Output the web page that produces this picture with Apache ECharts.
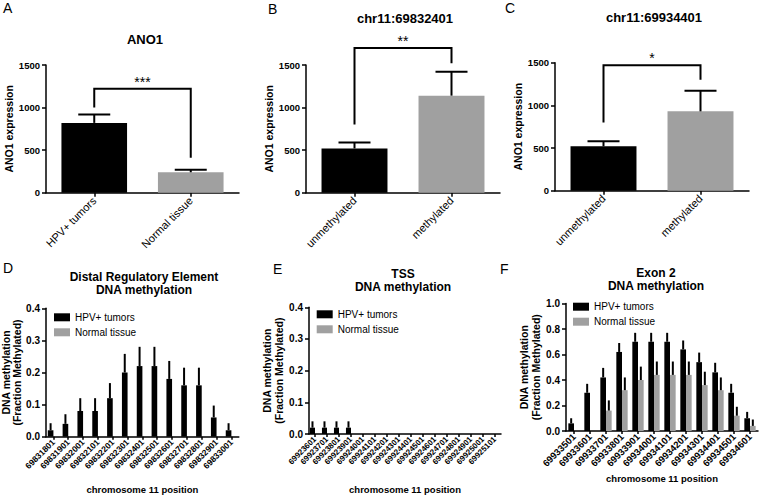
<!DOCTYPE html>
<html><head><meta charset="utf-8">
<script src="https://cdn.jsdelivr.net/npm/echarts@6/dist/echarts.min.js"></script>
<style>html,body{margin:0;padding:0;background:#fff}#c{width:760px;height:498px}</style>
</head><body><div id="c"></div>
<script>
const FONT = "'Liberation Sans', Arial, Helvetica, sans-serif";
const BLACK = '#000000', GREY = '#a0a0a0';
const seriesNames = ['HPV+ tumors', 'Normal tissue'];

// ---- Panel A ----
const catA = ['HPV+ tumors', 'Normal tissue'];
const meanA = [820, 240];
const errTopA = [920, 270];
const bracketA = [1000, 1220, 410];   // left leg end, top, right leg end
const starsA = '***';
// ---- Panel B ----
const catB = ['unmethylated', 'methylated'];
const meanB = [520, 1140];
const errTopB = [590, 1420];
const bracketB = [800, 1700, 1520];
const starsB = '**';
// ---- Panel C ----
const catC = ['unmethylated', 'methylated'];
const meanC = [520, 930];
const errTopC = [580, 1170];
const bracketC = [800, 1470, 1300];
const starsC = '*';
const yMaxABC = 1500, yStepABC = 500;

// ---- Panel D ----
const catD = ['69831801','69831901','69832001','69832101','69832201','69832301','69832401','69832501','69832601','69832701','69832801','69832901','69833001'];
const tumorD    = [0.02, 0.04, 0.08, 0.08, 0.12, 0.20, 0.22, 0.22, 0.18, 0.16, 0.16, 0.06, 0.02];
const tumorTopD = [0.042,0.07, 0.12, 0.12, 0.167,0.258,0.28, 0.28, 0.236,0.215,0.215,0.097,0.042];
const normalD    = [0,0,0,0,0,0,0,0,0,0,0,0,0];
const normalTopD = [0,0,0,0,0,0,0,0,0,0,0,0,0];
const yMaxD = 0.4, yStepD = 0.1;

// ---- Panel E ----
const catE = ['69923601','69923701','69923801','69923901','69924001','69924101','69924201','69924301','69924401','69924501','69924601','69924701','69924801','69924901','69925001','69925101'];
const tumorE    = [0.02, 0.02, 0.02, 0.02, 0,0,0,0,0,0,0,0,0,0,0,0];
const tumorTopE = [0.04, 0.04, 0.04, 0.04, 0,0,0,0,0,0,0,0,0,0,0,0];
const normalE    = [0,0,0,0,0,0,0,0,0,0,0,0,0,0,0,0];
const normalTopE = [0,0,0,0,0,0,0,0,0,0,0,0,0,0,0,0];
const yMaxE = 0.4, yStepE = 0.1;

// ---- Panel F ----
const catF = ['69933501','69933601','69933701','69933801','69933901','69934001','69934101','69934201','69934301','69934401','69934501','69934601'];
const tumorF    = [0.06, 0.30, 0.42, 0.62, 0.70, 0.70, 0.70, 0.64, 0.54, 0.46, 0.30, 0.10];
const tumorTopF = [0.10, 0.37, 0.495,0.69, 0.77, 0.77, 0.77, 0.71, 0.615,0.535,0.37, 0.15];
const normalF    = [0, 0, 0.16, 0.32, 0.40, 0.44, 0.44, 0.44, 0.36, 0.32, 0.12, 0.04];
const normalTopF = [0, 0, 0.24, 0.42, 0.505,0.545,0.545,0.545,0.465,0.42, 0.19, 0.09];
const yMaxF = 1.0, yStepF = 0.2;

const chart = echarts.init(document.getElementById('c'), null, {renderer: 'svg', width: 760, height: 498});

function errRender(offFrac, cap) {
  return function (params, api) {
    const x = api.value(0), m = api.value(1), t = api.value(2);
    if (!(t > m)) return null;
    const w = api.size([1, 0])[0];
    const a = api.coord([x, m]), b = api.coord([x, t]);
    const cx = a[0] + offFrac * w;
    const ch = [{type: 'line', shape: {x1: cx, y1: a[1], x2: cx, y2: b[1]}, style: {stroke: BLACK, lineWidth: 2}}];
    if (cap) ch.push({type: 'line', shape: {x1: cx - cap / 2, y1: b[1], x2: cx + cap / 2, y2: b[1]}, style: {stroke: BLACK, lineWidth: 2}});
    return {type: 'group', children: ch};
  };
}
function bracketRender(b, stars) {
  return function (params, api) {
    const pL = api.coord([0, b[0]]), p0 = api.coord([0, b[1]]), p1 = api.coord([1, b[1]]), pR = api.coord([1, b[2]]);
    return {type: 'group', children: [
      {type: 'polyline', shape: {points: [pL, p0, p1, pR]}, style: {stroke: BLACK, lineWidth: 2, fill: 'none'}},
      {type: 'text', x: (p0[0] + p1[0]) / 2, y: p0[1], style: {text: stars, font: '14px ' + FONT, fill: BLACK, align: 'center', verticalAlign: 'bottom'}}
    ]};
  };
}

const grids = [
  {left: 46, top: 65, width: 193, height: 127.7},
  {left: 306, top: 65, width: 194, height: 127.7},
  {left: 555, top: 62.7, width: 194, height: 128},
  {left: 46, top: 308.3, width: 192.8, height: 128.4},
  {left: 309, top: 307.3, width: 192, height: 126.7},
  {left: 566, top: 303.5, width: 192, height: 127.5}
].map(g => Object.assign({outerBoundsMode: 'none', containLabel: false}, g));

const axisLineStyle = {color: BLACK, width: 1.5};
const xAxes = [], yAxes = [], series = [];

function addAxes(idx, cats, yMax, yStep, o) {
  xAxes.push({
    type: 'category', gridIndex: idx, data: cats, boundaryGap: true,
    axisLine: {show: true, lineStyle: axisLineStyle},
    axisTick: {show: true, alignWithLabel: true, length: o.xTick, lineStyle: axisLineStyle},
    axisLabel: {interval: 0, rotate: 45, color: BLACK, fontFamily: FONT, fontSize: o.xFont, fontWeight: o.xBold ? 'bold' : 'normal', margin: o.xMargin, hideOverlap: false},
    name: o.xName || '', nameLocation: 'middle', nameGap: o.xNameGap || 0,
    nameTextStyle: {color: BLACK, fontFamily: FONT, fontSize: 9.5, fontWeight: 'bold'}
  });
  yAxes.push({
    type: 'value', gridIndex: idx, min: 0, max: yMax, interval: yStep,
    axisLine: {show: true, lineStyle: axisLineStyle},
    axisTick: {show: true, length: 4, lineStyle: axisLineStyle},
    splitLine: {show: false},
    axisLabel: {color: BLACK, fontFamily: FONT, fontSize: o.yFont, fontWeight: 'bold', margin: 6,
      formatter: o.yFixed ? (v => v.toFixed(o.yFixed)) : (v => String(v))},
    name: o.yName, nameLocation: 'middle', nameGap: o.yNameGap,
    nameTextStyle: {color: BLACK, fontFamily: FONT, fontSize: o.yNameFont, fontWeight: 'bold', lineHeight: o.yNameLH || 12}
  });
}

function simplePanel(idx, cats, mean, errTop, bracket, stars) {
  series.push({type: 'bar', xAxisIndex: idx, yAxisIndex: idx, barWidth: '68%', silent: true,
    data: mean.map((v, i) => ({value: v, itemStyle: {color: i === 0 ? BLACK : GREY}}))});
  series.push({type: 'custom', xAxisIndex: idx, yAxisIndex: idx, renderItem: errRender(0, 32), z: 3, silent: true,
    data: mean.map((v, i) => [i, v, errTop[i]])});
  series.push({type: 'custom', xAxisIndex: idx, yAxisIndex: idx, renderItem: bracketRender(bracket, stars), z: 3, silent: true,
    data: [[0, bracket[1]]]});
}
function groupedPanel(idx, tumor, tumorTop, normal, normalTop, bw) {
  series.push({type: 'bar', name: seriesNames[0], xAxisIndex: idx, yAxisIndex: idx, barWidth: (bw * 100) + '%', barGap: '0%', silent: true,
    itemStyle: {color: BLACK}, data: tumor});
  series.push({type: 'bar', name: seriesNames[1], xAxisIndex: idx, yAxisIndex: idx, barWidth: (bw * 100) + '%', barGap: '0%', silent: true,
    itemStyle: {color: GREY}, data: normal});
  series.push({type: 'custom', xAxisIndex: idx, yAxisIndex: idx, renderItem: errRender(-bw / 2, 0), z: 3, silent: true,
    data: tumor.map((v, i) => [i, v, tumorTop[i]])});
  series.push({type: 'custom', xAxisIndex: idx, yAxisIndex: idx, renderItem: errRender(bw / 2, 0), z: 3, silent: true,
    data: normal.map((v, i) => [i, v, normalTop[i]])});
}

const abcOpts = (gap) => ({xTick: 4, xFont: 11, xBold: false, xMargin: 6, yFont: 9.5, yName: 'ANO1 expression', yNameGap: gap, yNameFont: 10.5});
addAxes(0, catA, yMaxABC, yStepABC, abcOpts(29));
addAxes(1, catB, yMaxABC, yStepABC, abcOpts(27));
addAxes(2, catC, yMaxABC, yStepABC, abcOpts(27));
const methName = 'DNA methylation\n(Fraction Methylated)';
addAxes(3, catD, yMaxD, yStepD, {xTick: 3, xFont: 8.5, xBold: true, xMargin: 4, yFont: 10, yFixed: 1, yName: methName, yNameGap: 23, yNameLH: 11, yNameFont: 10.5, xName: 'chromosome 11 position', xNameGap: 48});
addAxes(4, catE, yMaxE, yStepE, {xTick: 3, xFont: 8, xBold: true, xMargin: 4, yFont: 10, yFixed: 1, yName: methName, yNameGap: 21, yNameFont: 10.5, xName: 'chromosome 11 position', xNameGap: 50});
addAxes(5, catF, yMaxF, yStepF, {xTick: 3, xFont: 9.5, xBold: true, xMargin: 4, yFont: 10, yFixed: 1, yName: methName, yNameGap: 20, yNameFont: 10.5, xName: 'chromosome 11 position', xNameGap: 42});

simplePanel(0, catA, meanA, errTopA, bracketA, starsA);
simplePanel(1, catB, meanB, errTopB, bracketB, starsB);
simplePanel(2, catC, meanC, errTopC, bracketC, starsC);
groupedPanel(3, tumorD, tumorTopD, normalD, normalTopD, 0.38);
groupedPanel(4, tumorE, tumorTopE, normalE, normalTopE, 0.42);
groupedPanel(5, tumorF, tumorTopF, normalF, normalTopF, 0.354);

const legendBase = {data: seriesNames, orient: 'vertical', icon: 'rect', itemWidth: 16, itemHeight: 8, itemGap: 3, padding: 0,
  selectedMode: false, textStyle: {color: BLACK, fontFamily: FONT, fontSize: 10, lineHeight: 12}};
const legends = [
  Object.assign({}, legendBase, {left: 54, top: 311.3}),
  Object.assign({}, legendBase, {left: 316.7, top: 308.3}),
  Object.assign({}, legendBase, {left: 573, top: 300.7})
];

function txt(text, x, y, size, bold, align, vAlign, lh) {
  return {type: 'text', x: x, y: y, silent: true,
    style: {text: text, fill: BLACK, font: (bold ? 'bold ' : '') + size + 'px ' + FONT, align: align, verticalAlign: vAlign, lineHeight: lh || size}};
}
const graphics = [
  txt('A', 3, 1, 14, false, 'left', 'top'),
  txt('B', 268, 2, 14, false, 'left', 'top'),
  txt('C', 505, 1, 14, false, 'left', 'top'),
  txt('D', 3, 261, 14, false, 'left', 'top'),
  txt('E', 273, 262, 14, false, 'left', 'top'),
  txt('F', 500, 262, 14, false, 'left', 'top'),
  txt('ANO1', 145, 39.5, 13, true, 'center', 'middle'),
  txt('chr11:69832401', 405, 18.5, 13, true, 'center', 'middle'),
  txt('chr11:69934401', 654, 17, 13, true, 'center', 'middle'),
  txt('Distal Regulatory Element\nDNA methylation', 144, 283.3, 12, true, 'center', 'middle', 12.5),
  txt('TSS\nDNA methylation', 403, 280.7, 12, true, 'center', 'middle', 13),
  txt('Exon 2\nDNA methylation', 656, 279, 12, true, 'center', 'middle', 13)
];

chart.setOption({
  animation: false,
  backgroundColor: '#ffffff',
  textStyle: {fontFamily: FONT},
  grid: grids,
  xAxis: xAxes,
  yAxis: yAxes,
  legend: legends,
  series: series,
  graphic: graphics
});
</script></body></html>
